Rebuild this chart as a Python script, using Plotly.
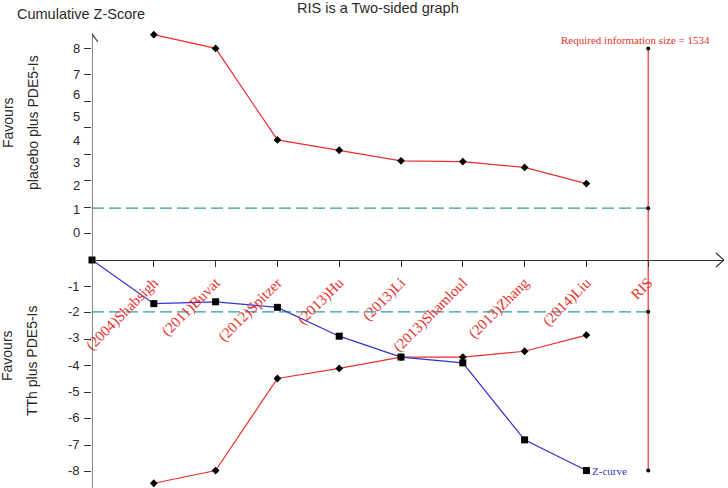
import plotly.graph_objects as go

# ---------------- data ----------------
studies = ["(2004)Shabsigh", "(2011)Buvat", "(2012)Spitzer", "(2013)Hu",
           "(2013)Li", "(2013)Shamloul", "(2013)Zhang", "(2014)Liu"]
x_labels = studies + ["RIS"]
z_curve = [0.0, -1.65, -1.58, -1.79, -2.88, -3.67, -3.89, -6.80, -7.96]
upper_boundary = [8.52, 8.0, 4.54, 4.15, 3.75, 3.72, 3.50, 2.89]
lower_boundary = [-8.44, -7.96, -4.48, -4.10, -3.67, -3.67, -3.45, -2.84]
conv_upper = 1.96
conv_lower = -1.96
ris_top = 8.0
ris_bottom = -7.96
ris_label = "Required information size = 1534"

# y-axis: tick marks and (oddly placed) tick labels as in the reference
y_tick_vals = [-8, -7, -6, -5, -4, -3, -2, -1, 1, 2, 3, 4, 5, 6, 7, 8]
y_label_pos = [7.99, 7.02, 6.25, 5.41, 4.53, 3.69, 2.83, 1.92, 1.05,
               -1.0, -1.95, -2.94, -3.97, -4.97, -5.96, -6.97, -7.96]
y_label_txt = ["8", "7", "6", "5", "4", "3", "2", "1", "0",
               "-1", "-2", "-3", "-4", "-5", "-6", "-7", "-8"]

# ---------------- geometry ----------------
W, H = 728, 488
X0PIX, XUNIT = 92, 61.8      # x=0 at pixel 92, one study per 61.8 px
Y0PIX, YUNIT = 260, 26.45    # y=0 at pixel 260
R_MARGIN = 4
PW = W - X0PIX - R_MARGIN
x_range = [0, PW / XUNIT]
y_range = [(Y0PIX - H) / YUNIT, Y0PIX / YUNIT]

def dx(p):
    return (p - X0PIX) / XUNIT

def dy(p):
    return (Y0PIX - p) / YUNIT

def px(p):
    return (p - X0PIX) / PW

def py(p):
    return (H - p) / H

RED = "#e8312c"
BLUE = "#3333cc"
TEAL = "#2f9aa6"
AX = "#333333"
TXT = "#2a2a2a"
SANS = "Liberation Sans, Arial, sans-serif"
SERIF = "Liberation Serif, Times New Roman, serif"

x_idx = list(range(1, len(studies) + 1))
ris_x = len(studies) + 1

fig = go.Figure()

# conventional boundaries (dashed)
for yv in (conv_upper, conv_lower):
    fig.add_trace(go.Scatter(x=[0, ris_x], y=[yv, yv], mode="lines",
                             line=dict(color=TEAL, width=1.2, dash="12px,5px"),
                             hoverinfo="skip", showlegend=False))

# RIS vertical line
fig.add_trace(go.Scatter(x=[ris_x, ris_x], y=[ris_top, ris_bottom], mode="lines",
                         line=dict(color=RED, width=1.2), showlegend=False))
fig.add_trace(go.Scatter(x=[ris_x] * 4, y=[ris_top, conv_upper, conv_lower, ris_bottom],
                         mode="markers", marker=dict(color="black", size=4, symbol="circle"),
                         showlegend=False))

# monitoring boundaries
for arr in (upper_boundary, lower_boundary):
    fig.add_trace(go.Scatter(x=x_idx, y=arr, mode="lines+markers",
                             line=dict(color=RED, width=1.2),
                             marker=dict(color="black", size=6, symbol="diamond"),
                             showlegend=False))

# Z-curve
fig.add_trace(go.Scatter(x=[0] + x_idx, y=z_curve, mode="lines+markers",
                         line=dict(color=BLUE, width=1.2),
                         marker=dict(color="black", size=7, symbol="square"),
                         showlegend=False, cliponaxis=False))

shapes = []
# y axis line and arrow
shapes.append(dict(type="line", xref="x", yref="y", x0=0, x1=0, y0=dy(34), y1=y_range[0],
                   line=dict(color=AX, width=1.2)))
shapes.append(dict(type="path", xref="x", yref="y",
                   path=f"M {dx(86)},{dy(42)} L {dx(92)},{dy(34)} L {dx(98)},{dy(42)}",
                   line=dict(color=AX, width=1.2)))
# x axis arrow
shapes.append(dict(type="path", xref="x", yref="y",
                   path=f"M {dx(716)},{dy(253)} L {dx(724)},{dy(260)} L {dx(716)},{dy(267)}",
                   line=dict(color=AX, width=1.2)))

annotations = []
for pos, txt in zip(y_label_pos, y_label_txt):
    annotations.append(dict(xref="paper", x=px(82), xanchor="right",
                            yref="y", y=pos, yanchor="middle", text=txt, showarrow=False,
                            font=dict(family=SANS, size=13, color=TXT)))

def vtext(text, xpix, ypix):
    return dict(xref="paper", yref="paper", x=px(xpix), y=py(ypix), xanchor="center",
                yanchor="middle", text=text, showarrow=False, textangle=-90,
                font=dict(family=SANS, size=14, color=TXT))

annotations += [
    dict(xref="paper", yref="paper", x=px(15), y=py(14), xanchor="left", yanchor="middle",
         text="Cumulative Z-Score", showarrow=False,
         font=dict(family=SANS, size=14.5, color=TXT)),
    dict(xref="paper", yref="paper", x=px(378), y=py(8), xanchor="center", yanchor="middle",
         text="RIS is a Two-sided graph", showarrow=False,
         font=dict(family=SANS, size=14.5, color=TXT)),
    vtext("Favours", 8, 123),
    vtext("placebo plus PDE5-Is", 33, 123),
    vtext("Favours", 7, 356),
    vtext("TTh plus PDE5-Is", 32, 361),
    dict(xref="paper", yref="paper", x=px(635), y=py(40), xanchor="center", yanchor="middle",
         text=ris_label, showarrow=False,
         font=dict(family=SERIF, size=11, color=RED)),
    dict(xref="x", yref="y", x=x_idx[-1], y=z_curve[-1], xanchor="left", xshift=4,
         yanchor="middle", text="Z-curve", showarrow=False,
         font=dict(family=SERIF, size=11, color=BLUE)),
]

fig.update_layout(
    width=W, height=H,
    margin=dict(l=X0PIX, r=R_MARGIN, t=0, b=0, pad=0, autoexpand=False),
    paper_bgcolor="white", plot_bgcolor="white",
    shapes=shapes, annotations=annotations,
    xaxis=dict(range=x_range, anchor="free", position=(H - Y0PIX) / H, automargin=False,
               showgrid=False, zeroline=False, showline=True, linecolor=AX, linewidth=1.2,
               ticks="outside", ticklen=6, tickcolor=AX, tickwidth=1.2,
               tickmode="array", tickvals=x_idx + [ris_x], ticktext=x_labels,
               tickangle=-45, ticklabelstandoff=1,
               tickfont=dict(family=SERIF, size=15, color=RED)),
    yaxis=dict(range=y_range, automargin=False, showgrid=False, zeroline=False, showline=False,
               ticks="outside", ticklen=7, tickcolor=AX, tickwidth=1.2,
               tickmode="array", tickvals=y_tick_vals, showticklabels=False),
)

fig.write_html("out.html", config={"displayModeBar": False},
               post_script="document.body.style.margin='0';")
